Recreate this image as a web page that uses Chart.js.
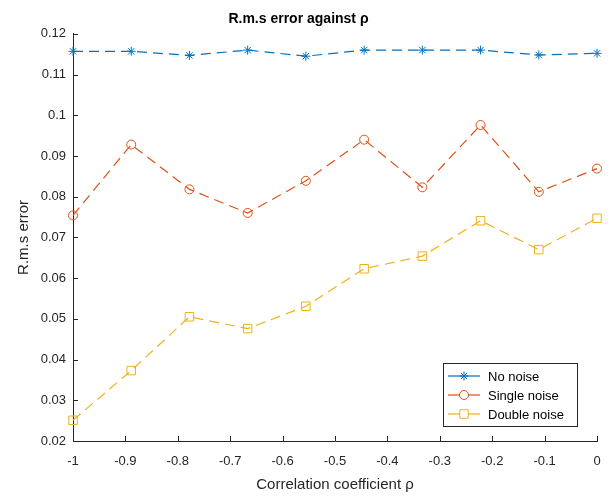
<!DOCTYPE html>
<html>
<head>
<meta charset="utf-8">
<script src="https://cdn.jsdelivr.net/npm/chart.js@4.4.0/dist/chart.umd.min.js"></script>
<style>
  body { margin: 0; background: #fff; }
  #wrap { width: 613px; height: 497px; }
</style>
</head>
<body>
<div id="wrap"><canvas id="myChart" width="613" height="497"></canvas></div>
<script>
// correlation coefficient values on the x axis
const rho = [-1, -0.8889, -0.7778, -0.6667, -0.5556, -0.4444, -0.3333, -0.2222, -0.1111, 0];

const noNoise     = [0.1157, 0.1157, 0.1147, 0.1160, 0.1145, 0.1160, 0.1160, 0.1160, 0.1148, 0.1152];
const singleNoise = [0.0754, 0.0928, 0.0818, 0.0760, 0.0839, 0.0940, 0.0823, 0.0976, 0.0812, 0.0869];
const doubleNoise = [0.0251, 0.0373, 0.0505, 0.0476, 0.0531, 0.0623, 0.0654, 0.0741, 0.0670, 0.0747];

const seriesNames = ['No noise', 'Single noise', 'Double noise'];
const seriesColors = ['#0072BD', '#D95319', '#EDB120'];
const markers = ['star', 'circle', 'rect'];
const markerSize = [4.5, 4.5, 6];

const axisColor = '#262626';
const fontFamily = '"Liberation Sans", Arial, Helvetica, sans-serif';

function points(ys) {
  return ys.map((y, i) => ({ x: rho[i], y: y }));
}

function fmt(v, d) {
  return String(parseFloat(Number(v).toFixed(d)));
}

// MATLAB style ticks pointing into the plot
const inwardTicks = {
  id: 'inwardTicks',
  afterDraw(chart) {
    const ctx = chart.ctx;
    const x = chart.scales.x, y = chart.scales.y;
    const area = chart.chartArea;
    ctx.save();
    ctx.strokeStyle = axisColor;
    ctx.lineWidth = 1;
    ctx.beginPath();
    x.ticks.forEach(t => {
      const px = Math.round(x.getPixelForValue(t.value)) + 0.5;
      ctx.moveTo(px, area.bottom);
      ctx.lineTo(px, area.bottom - 5);
    });
    y.ticks.forEach(t => {
      const py = Math.round(y.getPixelForValue(t.value)) + 0.5;
      ctx.moveTo(area.left, py);
      ctx.lineTo(area.left + 5, py);
    });
    ctx.stroke();
    ctx.restore();
  }
};

// legend box in the lower right corner of the axes
const boxLegend = {
  id: 'boxLegend',
  afterDraw(chart) {
    const ctx = chart.ctx;
    const area = chart.chartArea;
    const w = 134, h = 63;
    const bx = area.right - 20 - w, by = area.bottom - 15 - h;
    ctx.save();
    ctx.fillStyle = '#fff';
    ctx.fillRect(bx, by, w, h);
    ctx.strokeStyle = axisColor;
    ctx.lineWidth = 1;
    ctx.strokeRect(Math.round(bx) + 0.5, Math.round(by) + 0.5, w, h);
    ctx.font = '13px ' + fontFamily;
    ctx.textBaseline = 'middle';
    seriesNames.forEach((name, i) => {
      const ry = by + 13 + i * 19;
      ctx.strokeStyle = seriesColors[i];
      ctx.lineWidth = 1.2;
      ctx.beginPath();
      ctx.moveTo(bx + 5, ry);
      ctx.lineTo(bx + 37, ry);
      ctx.stroke();
      ctx.fillStyle = '#fff';
      ctx.lineWidth = 1;
      Chart.helpers.drawPoint(ctx, {
        pointStyle: markers[i], radius: markerSize[i], borderWidth: 1, rotation: 0
      }, bx + 21, ry);
      ctx.fillStyle = '#000';
      ctx.fillText(name, bx + 45, ry + 1);
    });
    ctx.restore();
  }
};

const ctx = document.getElementById('myChart').getContext('2d');

new Chart(ctx, {
  type: 'line',
  data: {
    datasets: [noNoise, singleNoise, doubleNoise].map((ys, i) => ({
      label: seriesNames[i],
      data: points(ys),
      borderColor: seriesColors[i],
      borderWidth: 1.2,
      borderDash: [10, 6],
      pointStyle: markers[i],
      pointRadius: markerSize[i],
      pointBorderWidth: 1,
      pointBorderColor: seriesColors[i],
      pointBackgroundColor: 'rgba(0,0,0,0)',
      tension: 0,
      fill: false,
      clip: false
    }))
  },
  options: {
    responsive: false,
    animation: false,
    layout: { padding: { left: 0, right: 16, top: 0, bottom: 0 } },
    plugins: {
      legend: { display: false },
      tooltip: { enabled: false },
      title: {
        display: true,
        text: 'R.m.s error against ρ',
        color: '#000',
        font: { family: fontFamily, size: 14, weight: 'bold' },
        padding: { top: 11, bottom: 6 }
      }
    },
    scales: {
      x: {
        type: 'linear',
        min: -1,
        max: 0,
        afterFit(s) { s.height = 56; },
        grid: { display: false },
        border: { display: true, color: axisColor, width: 1 },
        ticks: {
          stepSize: 0.1,
          color: axisColor,
          padding: 5,
          maxRotation: 0,
          font: { family: fontFamily, size: 13 },
          callback: v => fmt(v, 1)
        },
        title: {
          display: true,
          text: 'Correlation coefficient ρ',
          color: axisColor,
          font: { family: fontFamily, size: 15 },
          padding: { top: 0, bottom: 3 }
        }
      },
      y: {
        type: 'linear',
        min: 0.02,
        max: 0.12,
        afterFit(s) { s.width = 73; },
        grid: { display: false },
        border: { display: true, color: axisColor, width: 1 },
        ticks: {
          stepSize: 0.01,
          color: axisColor,
          padding: -1,
          font: { family: fontFamily, size: 13 },
          callback: v => fmt(v, 2)
        },
        title: {
          display: true,
          text: 'R.m.s error',
          color: axisColor,
          font: { family: fontFamily, size: 15 },
          padding: { top: 15, bottom: 0 }
        }
      }
    }
  },
  plugins: [inwardTicks, boxLegend]
});
</script>
</body>
</html>
